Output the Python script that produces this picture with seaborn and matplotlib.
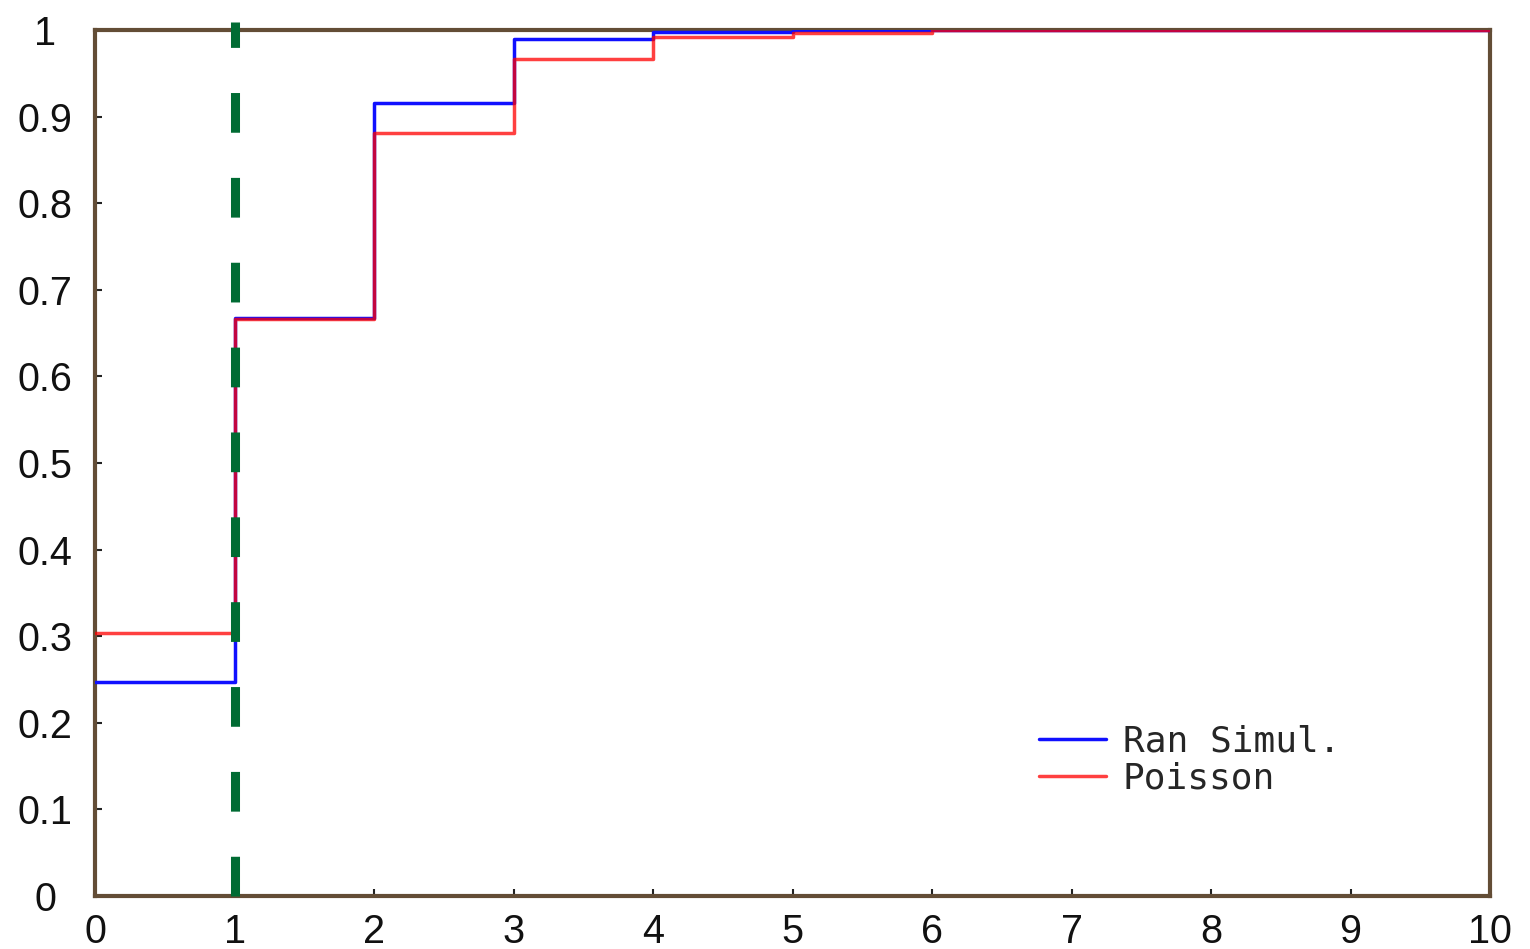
import numpy as np
import pandas as pd
import matplotlib
matplotlib.use("Agg")
import matplotlib.pyplot as plt
import seaborn as sns

# Cumulative distribution of the count, simulation vs. Poisson
counts = [0, 1, 2, 3, 4, 5, 6, 7, 8, 9, 10]
ran_simul = [0.247, 0.667, 0.916, 0.990, 0.998, 1.0, 1.0, 1.0, 1.0, 1.0, 1.0]
poisson = [0.304, 0.666, 0.881, 0.967, 0.992, 0.997, 0.9995, 1.0, 1.0, 1.0, 1.0]
threshold = 1

x_ticks = [0, 1, 2, 3, 4, 5, 6, 7, 8, 9, 10]
y_ticks = [0, 0.1, 0.2, 0.3, 0.4, 0.5, 0.6, 0.7, 0.8, 0.9, 1]
y_tick_labels = ["0", "0.1", "0.2", "0.3", "0.4", "0.5", "0.6", "0.7", "0.8", "0.9", "1"]

sns.set_theme(style="white")
plt.rcParams["font.family"] = ["Liberation Sans", "DejaVu Sans"]

fig = plt.figure(figsize=(15.3, 9.49), dpi=100)
ax = fig.add_axes([0.0621, 0.0558, 0.9118, 0.9126])

df = pd.DataFrame({"count": counts, "Ran Simul.": ran_simul, "Poisson": poisson})

sns.lineplot(data=df, x="count", y="Ran Simul.", ax=ax, color="#1010ff",
             linewidth=2.5, drawstyle="steps-post", label="Ran Simul.", zorder=3)
sns.lineplot(data=df, x="count", y="Poisson", ax=ax, color="#ff0000", alpha=0.75,
             linewidth=2.5, drawstyle="steps-post", label="Poisson", zorder=4)

ax.plot([threshold, threshold], [0, 1.009], color="#006b33", linewidth=6.5,
        dashes=(4.4, 5.0), solid_capstyle="butt", dash_capstyle="butt",
        clip_on=False, zorder=5)

ax.set_xlim(0, 10)
ax.set_ylim(0, 1)
ax.set_xlabel("")
ax.set_ylabel("")
ax.set_xticks(x_ticks)
ax.set_xticklabels([str(v) for v in x_ticks])
ax.set_yticks(y_ticks)
ax.set_yticklabels(y_tick_labels)

for s in ax.spines.values():
    s.set_visible(True)
    s.set_color("#634d36")
    s.set_linewidth(3.0)

ax.tick_params(axis="both", which="both", direction="in", length=5, width=1.5,
               color="#222222", labelsize=28.5, labelcolor="#111111")
ax.tick_params(axis="x", pad=12, bottom=True, top=False)
ax.tick_params(axis="y", pad=36, left=True, right=False)
for lbl in ax.get_yticklabels():
    lbl.set_horizontalalignment("center")

leg = ax.legend(loc="upper left", bbox_to_anchor=(0.677, 0.198), frameon=False,
                borderpad=0, borderaxespad=0,
                handlelength=1.85, handletextpad=0.45, labelspacing=0.08,
                prop={"family": ["DejaVu Sans Mono"], "size": 26})
for h in leg.get_lines():
    h.set_linewidth(2.5)

fig.savefig("out.png", dpi=100, facecolor="white")
